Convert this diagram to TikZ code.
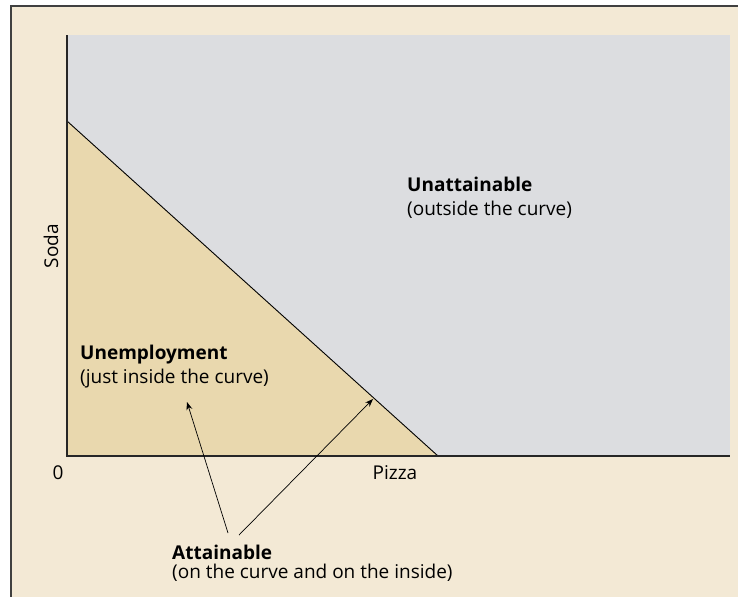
\documentclass[tikz,border=0pt]{standalone}
\usepackage{fontspec}
\setmainfont{Open Sans}
\usetikzlibrary{arrows.meta}
\definecolor{bgbeige}{RGB}{243,233,213}
\definecolor{plotgray}{RGB}{220,221,224}
\definecolor{insidetan}{RGB}{233,216,174}
\begin{document}
\begin{tikzpicture}[x=1pt,y=-1pt,font=\fontsize{19}{24}\selectfont,
  regionlabel/.style={anchor=base west,align=left,inner sep=0pt},
  pointer/.style={-{Stealth[length=8pt,width=6pt]},line width=.7pt}]
 \useasboundingbox (0,0) rectangle (738,597);
 \fill[bgbeige] (11,6) rectangle (738,597);
 \draw[line width=1.4pt,black!75] (738,6) -- (11,6) -- (11,597);
 \fill[plotgray] (67,35) rectangle (730,456);
 \coordinate (origin) at (67,456);
 \coordinate (ytop) at (67,35);
 \coordinate (xend) at (730,456);
 \coordinate (sodamax) at (67,121);
 \coordinate (pizzamax) at (438,456);
 \fill[insidetan] (origin) -- (sodamax) -- (pizzamax) -- cycle;
 \draw[line width=.9pt] (sodamax) -- (pizzamax);
 \draw[line width=1.3pt,black!85] (ytop) -- (origin) -- (xend);
 \node (zero) at (58,473) {0};
 \node (pizza) at (395,473) {Pizza};
 \node[rotate=90] (soda) at (51,246) {Soda};
 \node[regionlabel] (unattain) at (407,215) {\textbf{Unattainable}\\(outside the curve)};
 \node[regionlabel] (unemploy) at (80,383) {\textbf{Unemployment}\\(just inside the curve)};
 \node[regionlabel,font=\fontsize{19}{19}\selectfont] (attain) at (172,578) {\textbf{Attainable}\\(on the curve and on the inside)};
 \coordinate (tailin) at (228,533);
 \coordinate (tailon) at (239,535);
 \coordinate (tipin) at (187,402);
 \coordinate (tipon) at (373,399);
 \draw[pointer] (tailin) -- (tipin);
 \draw[pointer] (tailon) -- (tipon);
\end{tikzpicture}
\end{document}
